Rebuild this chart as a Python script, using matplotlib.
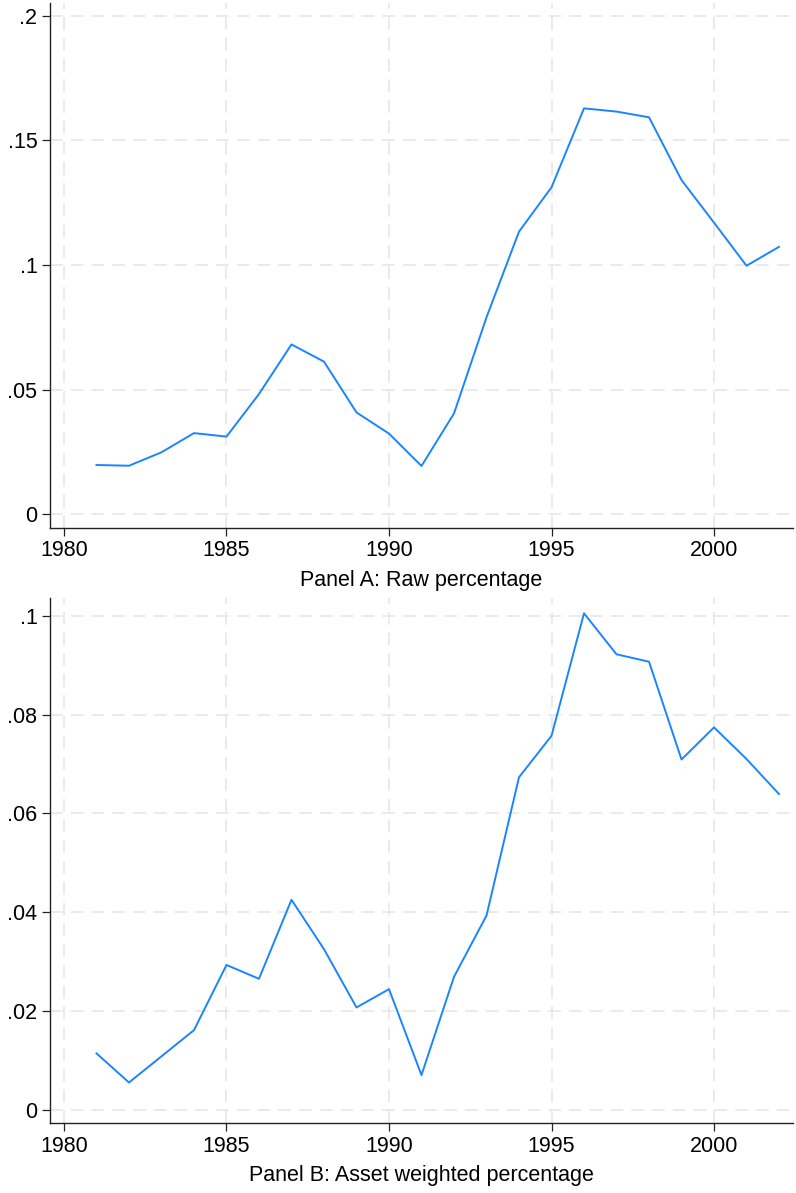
import numpy as np
import matplotlib
matplotlib.use("Agg")
import matplotlib.pyplot as plt

## data ##
years = list(range(1981, 2003))
raw_pct = [0.0197, 0.0194, 0.0248, 0.0325, 0.0311, 0.0482, 0.0681, 0.0612,
           0.0408, 0.0323, 0.0193, 0.0404, 0.0790, 0.1134, 0.1312, 0.1629,
           0.1616, 0.1593, 0.1341, 0.1170, 0.0997, 0.1073]
asset_pct = [0.0114, 0.0055, 0.0108, 0.0161, 0.0293, 0.0265, 0.0425, 0.0325,
             0.0207, 0.0244, 0.0070, 0.0269, 0.0393, 0.0673, 0.0757, 0.1005,
             0.0922, 0.0907, 0.0709, 0.0774, 0.0710, 0.0639]

xticks = [1980, 1985, 1990, 1995, 2000]
yticks_a = [0, 0.05, 0.1, 0.15, 0.2]
ylabels_a = ["0", ".05", ".1", ".15", ".2"]
yticks_b = [0, 0.02, 0.04, 0.06, 0.08, 0.1]
ylabels_b = ["0", ".02", ".04", ".06", ".08", ".1"]
titles = ["Panel A: Raw percentage", "Panel B: Asset weighted percentage"]

plt.rcParams['font.family'] = ['Liberation Sans', 'DejaVu Sans']

W, H = 796, 1193
fig = plt.figure(figsize=(W/100, H/100), dpi=100)

def px_axes(left, top, right, bottom):
    return fig.add_axes([left/W, 1-bottom/H, (right-left)/W, (bottom-top)/H])

ax_a = px_axes(50, 3, 793, 528)
ax_b = px_axes(50, 598, 793, 1123)

def style(ax, y, yt, yl, ylim, title):
    ax.plot(years, y, color='#1a85ff', linewidth=1.4)
    ax.set_xlim(1979.57, 2002.43)
    ax.set_ylim(*ylim)
    ax.set_xticks(xticks)
    ax.set_yticks(yt)
    ax.set_yticklabels(yl)
    ax.grid(True, color='#e8e8e8', linestyle=(0, (7, 4.5)), linewidth=1.3)
    ax.set_axisbelow(True)
    for s in ['top', 'right']:
        ax.spines[s].set_visible(False)
    for s in ['left', 'bottom']:
        ax.spines[s].set_color('#222222')
        ax.spines[s].set_linewidth(1.0)
    ax.tick_params(axis='both', direction='out', length=6, width=0.9,
                   color='#222222', labelsize=15.5, pad=3)
    ax.set_xlabel(title, fontsize=15.5, labelpad=6)

style(ax_a, raw_pct, yticks_a, ylabels_a, (-0.0056, 0.2052), titles[0])
style(ax_b, asset_pct, yticks_b, ylabels_b, (-0.0027, 0.1036), titles[1])

fig.savefig("out.png", dpi=100)
